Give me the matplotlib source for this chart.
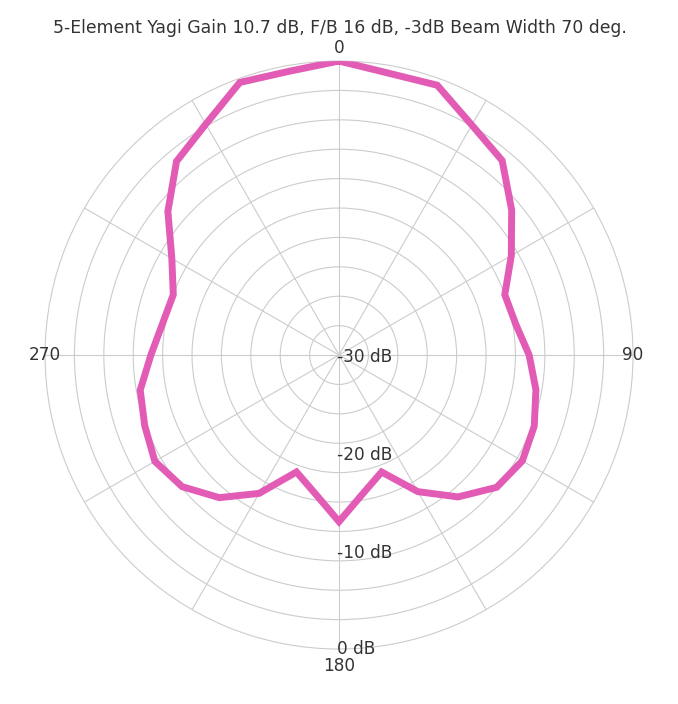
import matplotlib
matplotlib.use("Agg")
import matplotlib.pyplot as plt
import numpy as np

# Pattern, every 10 deg clockwise from 0 (front)
angles_deg = [0, 10, 20, 30, 40, 50, 60, 70, 80, 90, 100, 110, 120, 130, 140, 150, 160, 170,
              180, 190, 200, 210, 220, 230, 240, 250, 260, 270, 280, 290, 300, 310, 320, 330, 340, 350]
gain_db = [0.0, -0.8, -0.7, -2.9, -4.1, -7.0, -9.7, -12.0, -11.7, -10.6, -9.6, -8.8,
           -8.4, -9.0, -11.1, -13.9, -17.3, -15.7, -13.0, -15.7, -17.3, -13.7, -11.0, -9.1,
           -8.3, -8.9, -9.4, -10.8, -11.7, -12.0, -10.3, -7.2, -4.2, -2.8, -0.4, -0.6]

ring_db = list(range(-27, 0, 3))
radial_labels = [-30, -20, -10, 0]
compass_labels = {0: "0", 90: "90", 180: "180", 270: "270"}

TITLE = "5-Element Yagi Gain 10.7 dB, F/B 16 dB, -3dB Beam Width 70 deg."
GRID = "#cccccc"
TEXT = "#333333"
PINK = "#e25cb6"

fig = plt.figure(figsize=(6.78, 7.04), dpi=100)
ax = fig.add_axes([0.0664, 0.0781, 0.8673, 0.8352], projection="polar")
ax.set_theta_zero_location("N")
ax.set_theta_direction(-1)
ax.set_rlim(-30, 0)

ax.set_rticks(ring_db)
ax.set_yticklabels([])
ax.set_thetagrids(np.arange(0, 360, 30), labels=[""] * 12)
ax.grid(True, color=GRID, linewidth=0.8)
ax.spines["polar"].set_color(GRID)
ax.spines["polar"].set_linewidth(0.8)
ax.tick_params(length=0)

th = np.deg2rad(angles_deg + [angles_deg[0]])
r = gain_db + [gain_db[0]]
ax.plot(th, r, color=PINK, linewidth=5.0, solid_joinstyle="miter", zorder=5)

# radial dB labels along the 180 spoke
for v in radial_labels:
    dy = 0 if v == 0 else -2
    ax.annotate(f"{v} dB", xy=(np.pi, v), xytext=(-2, dy), textcoords="offset pixels",
                ha="left", va="center", fontsize=12.2, color=TEXT, zorder=6,
                annotation_clip=False)

# compass labels
offsets = {0: (0, 13), 90: (0, 0), 180: (0, -17), 270: (0, 0)}
for a, lab in compass_labels.items():
    ax.annotate(lab, xy=(np.deg2rad(a), 0), xytext=offsets[a], textcoords="offset pixels",
                ha="center", va="center", fontsize=12.2, color=TEXT, zorder=6,
                annotation_clip=False)

fig.text(0.5015, 1 - 28 / 704, TITLE, ha="center", va="center", fontsize=12.4, color=TEXT)

fig.savefig("out.png", dpi=100, facecolor="white")
